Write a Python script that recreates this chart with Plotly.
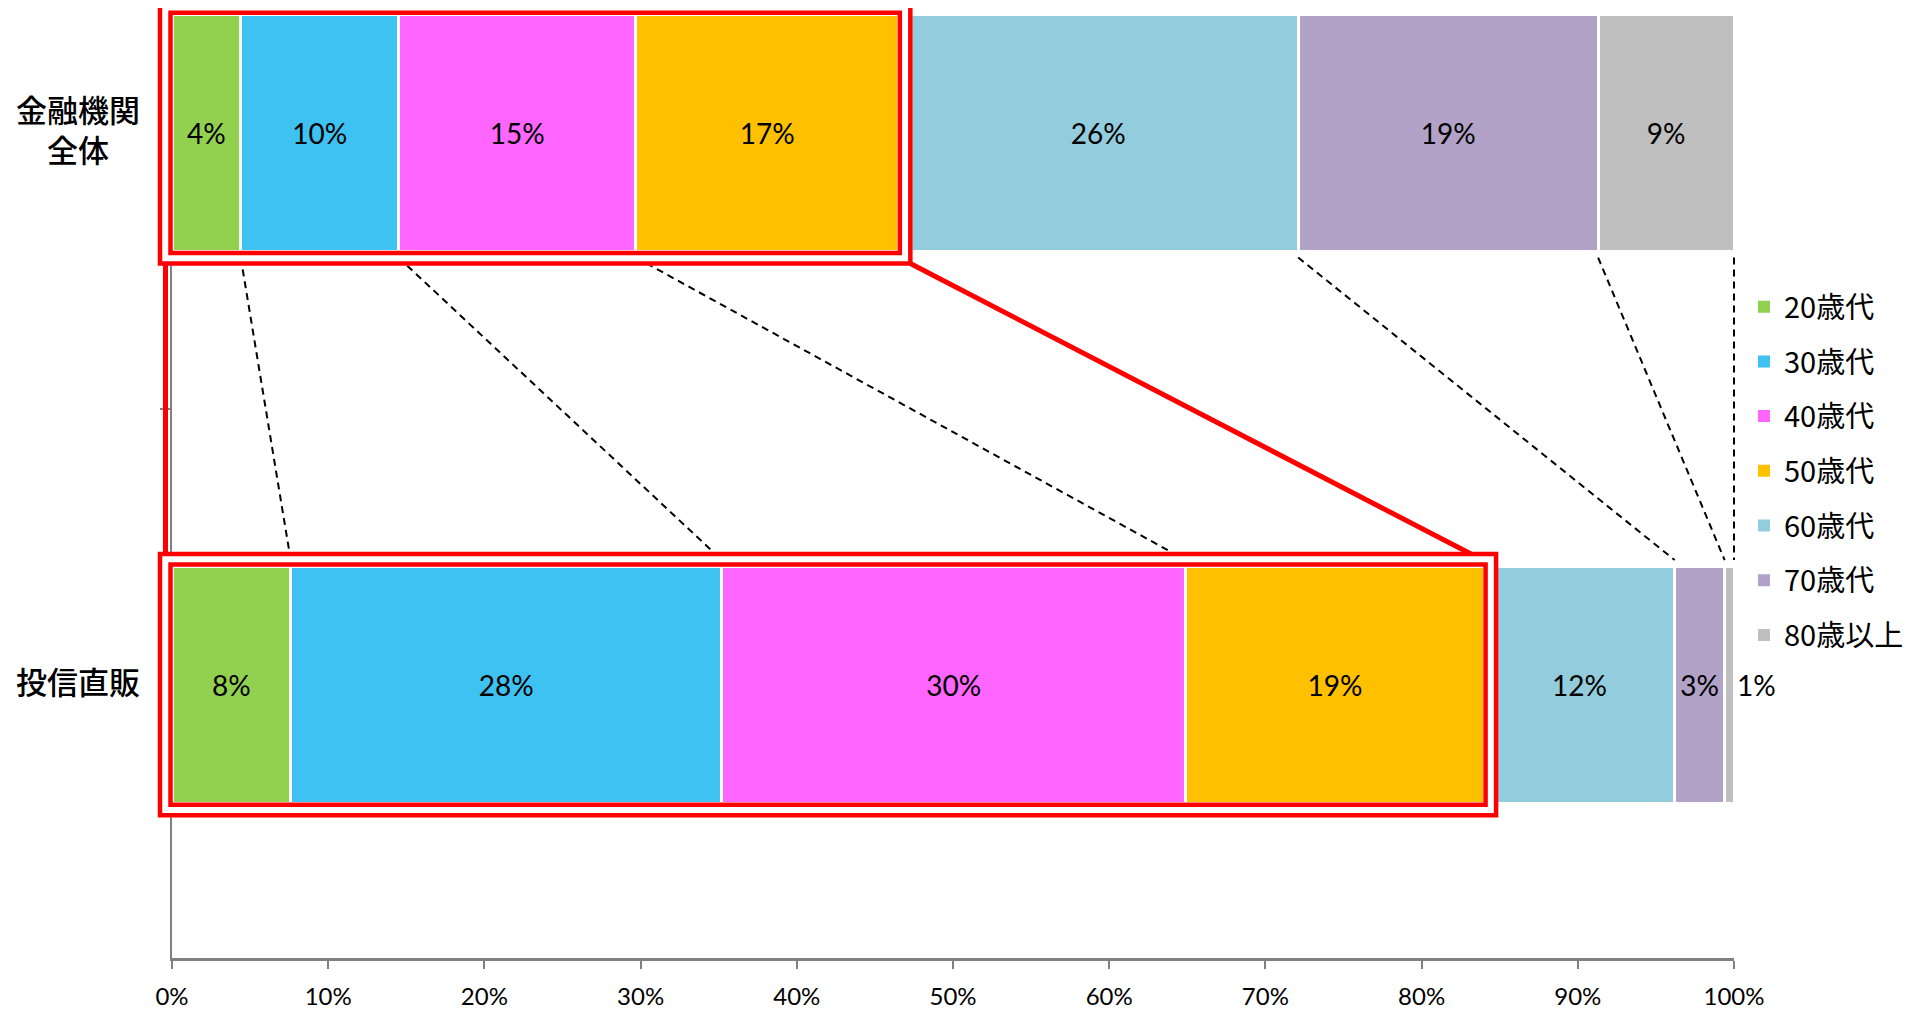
import plotly.graph_objects as go

# ---------------- data ----------------
categories = ["投信直販", "金融機関全体"]          # bottom -> top
category_labels = ["投信直販", "金融機関<br>全体"]
age_groups = ["20歳代", "30歳代", "40歳代", "50歳代", "60歳代", "70歳代", "80歳以上"]
colors = ["#92D050", "#3DC2F1", "#FF66FF", "#FFC000", "#93CDDD", "#B3A2C7", "#BFBFBF"]
share_direct = [7.6, 27.6, 29.7, 19.1, 12.2, 3.2, 0.6]      # 投信直販
share_all = [4.4, 10.1, 15.2, 16.8, 25.6, 19.2, 8.7]         # 金融機関全体
x_ticks = [0, 10, 20, 30, 40, 50, 60, 70, 80, 90, 100]
x_tick_labels = ["0%", "10%", "20%", "30%", "40%", "50%", "60%", "70%", "80%", "90%", "100%"]
highlight_n = 4   # first four age groups are boxed

# ---------------- geometry ----------------
W, H = 1922, 1002
ML, MR, MT, MB = 164, 196, 0, 48
PW, PH = W - ML - MR, H - MT - MB
XR = [0, 100]
YR = [-0.4955, 1.2265]
BW = 0.43

def xp(v):
    return (v - XR[0]) / (XR[1] - XR[0])

def yp(v):
    return (v - YR[0]) / (YR[1] - YR[0])

def dx(p):
    return p / PW

def dy(p):
    return p / PH

def cum(vals):
    out, s = [], 0.0
    for v in vals:
        s += v
        out.append(s)
    return out

cum_all = cum(share_all)
cum_direct = cum(share_direct)

fig = go.Figure()
num_font = "Lato, Liberation Sans, sans-serif"
jp_font = "Noto Sans CJK JP, sans-serif"

for i, g in enumerate(age_groups):
    vals = [share_direct[i], share_all[i]]
    tp = ["inside", "inside"]
    if i == len(age_groups) - 1:
        tp = ["outside", "inside"]
    fig.add_trace(go.Bar(
        y=categories, x=vals, name=g, orientation="h",
        width=BW,
        marker=dict(color=colors[i], line=dict(color="white", width=3)),
        texttemplate="%{x:.0f}%", textposition=tp, insidetextanchor="middle",
        textangle=0, constraintext="none", cliponaxis=False,
        textfont=dict(family=num_font, size=28, color="black"),
        showlegend=False,
        hoverinfo="skip",
    ))

# legend entries (square swatches)
for i, g in enumerate(age_groups):
    fig.add_trace(go.Scatter(
        x=[None], y=[None], mode="markers", name=g,
        marker=dict(symbol="square", size=12, color=colors[i]),
        legendgroup=g, showlegend=True, hoverinfo="skip",
    ))

shapes = []
# dashed connectors between segment boundaries
top_edge = yp(1 - BW / 2)
bot_edge = yp(0 + BW / 2)
for k in range(len(age_groups)):
    if k == highlight_n - 1:
        continue
    shapes.append(dict(type="line", xref="paper", yref="paper", layer="above",
                       x0=xp(cum_all[k]), y0=top_edge - dy(6),
                       x1=xp(cum_direct[k]), y1=bot_edge + dy(6),
                       line=dict(color="black", width=2, dash="7px,5px")))

# double red boxes around the first four segments
for c, cv in ((1, cum_all), (0, cum_direct)):
    x0, x1 = xp(0), xp(cv[highlight_n - 1])
    y0, y1 = yp(c - BW / 2), yp(c + BW / 2)
    for off, color, lw in ((7, "white", 14), (1.5, "#FF0000", 4.5), (12, "#FF0000", 4.5)):
        shapes.append(dict(type="rect", xref="paper", yref="paper", layer="above",
                           x0=x0 - dx(off), x1=x1 + dx(off),
                           y0=y0 - dy(off), y1=y1 + dy(off),
                           line=dict(color=color, width=lw)))

# red connectors between the boxes
shapes.append(dict(type="line", xref="paper", yref="paper", layer="above",
                   x0=xp(0) - dx(6.5), x1=xp(0) - dx(6.5),
                   y0=top_edge - dy(12), y1=bot_edge + dy(12),
                   line=dict(color="#FF0000", width=5)))
shapes.append(dict(type="line", xref="paper", yref="paper", layer="above",
                   x0=xp(cum_all[highlight_n - 1]) + dx(12), y0=top_edge - dy(12),
                   x1=xp(cum_direct[highlight_n - 1]) - dx(13), y1=bot_edge + dy(12),
                   line=dict(color="#FF0000", width=5)))

annotations = []
for c, lab in enumerate(category_labels):
    annotations.append(dict(xref="paper", yref="y", x=-dx(94), y=categories[c],
                            text=lab, showarrow=False, align="center",
                            xanchor="center", yanchor="middle", yshift=4,
                            font=dict(family=jp_font, size=31, color="black", weight=500)))

fig.update_layout(
    width=W, height=H,
    margin=dict(l=ML, r=MR, t=MT, b=MB, pad=0),
    barmode="stack",
    plot_bgcolor="white", paper_bgcolor="white",
    shapes=shapes, annotations=annotations,
    showlegend=True,
    legend=dict(x=1 + dx(10), xanchor="left", y=yp(1) - dy(149), yanchor="top",
                traceorder="grouped", tracegroupgap=14,
                font=dict(family=jp_font, size=29, color="black"),
                bgcolor="rgba(0,0,0,0)"),
    xaxis=dict(range=XR, tickvals=x_ticks, ticktext=x_tick_labels,
               showgrid=False, zeroline=False,
               showline=True, linecolor="#808080", linewidth=3,
               ticks="outside", ticklen=8, tickwidth=2, tickcolor="#808080",
               ticklabelstandoff=7,
               tickfont=dict(family=num_font, size=24, color="black")),
    yaxis=dict(type="category", categoryorder="array", categoryarray=categories,
               range=YR, showgrid=False, zeroline=False, showticklabels=False,
               showline=True, linecolor="#808080", linewidth=2,
               ticks="outside", tickson="boundaries", ticklen=10, tickwidth=2,
               tickcolor="#808080"),
)

fig.write_html("out.html")
